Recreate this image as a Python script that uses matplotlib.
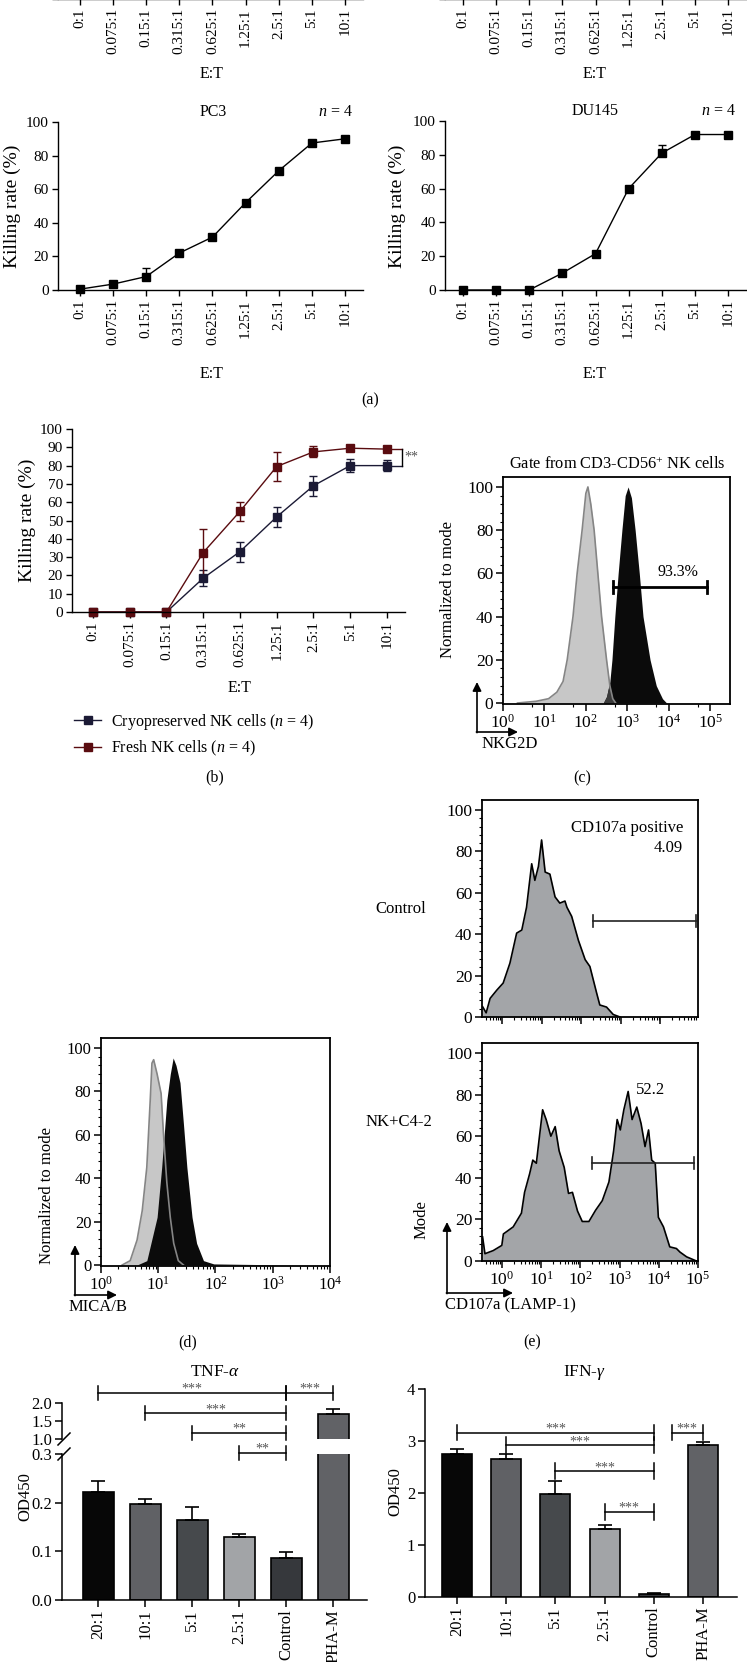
import numpy as np
import matplotlib
matplotlib.use('Agg')
import matplotlib.pyplot as plt
from matplotlib.patches import FancyArrowPatch
from matplotlib.lines import Line2D
from matplotlib.ticker import LogLocator, MultipleLocator, NullFormatter, FixedLocator

plt.rcParams['font.family'] = ['Liberation Serif', 'DejaVu Serif']
plt.rcParams['mathtext.fontset'] = 'custom'
plt.rcParams['mathtext.rm'] = 'Liberation Serif'
plt.rcParams['mathtext.it'] = 'Liberation Serif:italic'
plt.rcParams['font.size'] = 11

# ---------------- data ----------------
ratios = ['0:1', '0.075:1', '0.15:1', '0.315:1', '0.625:1', '1.25:1', '2.5:1', '5:1', '10:1']
pc3_kill = [0.5, 3.5, 8, 22, 31.5, 52, 71, 87.5, 90]
pc3_err = [0, 0, 5, 0, 0, 0, 0, 0, 0]
du145_kill = [0, 0, 0, 10, 21.5, 60, 81, 92, 92]
du145_err = [0, 0, 0, 0, 0, 0, 5, 0, 0]
cryo_kill = [0, 0, 0, 18.5, 33, 52, 69, 80, 80]
cryo_err = [0, 0, 0, 4.5, 5.5, 5.5, 5.5, 3.5, 3]
fresh_kill = [0, 0, 0, 32.5, 55, 79.5, 87.5, 89.5, 89]
fresh_err = [0, 0, 0, 13, 5, 8, 3, 1.5, 1.5]

# NKG2D histograms (log10 intensity, % of mode)
nkg2d_iso_logx = [0.35, 0.8, 1.1, 1.3, 1.45, 1.55, 1.69, 1.79, 1.91, 2.0, 2.05, 2.12, 2.2, 2.29, 2.38, 2.5, 2.58, 2.65, 2.72]
nkg2d_iso_y = [0, 0.8, 2, 5, 10, 20, 40, 60, 80, 97, 100, 92, 80, 60, 40, 20, 8, 2, 0]
nkg2d_logx = [2.42, 2.5, 2.58, 2.63, 2.7, 2.78, 2.87, 2.95, 3.02, 3.1, 3.19, 3.29, 3.38, 3.55, 3.7, 3.85, 3.95]
nkg2d_y = [0, 3, 10, 20, 40, 60, 80, 96, 100, 95, 80, 60, 40, 20, 8, 2, 0]

# MICA/B histograms
mica_iso_logx = [0.37, 0.51, 0.63, 0.72, 0.8, 0.86, 0.89, 0.92, 0.98, 1.05, 1.09, 1.15, 1.21, 1.27, 1.35, 1.44]
mica_iso_y = [0, 2, 11.5, 25, 45, 76, 93, 94.6, 88, 79, 61, 38, 22, 10, 2, 0]
mica_logx = [0.63, 0.8, 0.98, 1.06, 1.15, 1.21, 1.26, 1.31, 1.38, 1.44, 1.5, 1.59, 1.67, 1.79, 1.97, 2.5, 3.4]
mica_y = [0, 2, 22, 45, 76, 88, 95.4, 92, 84, 65, 45, 22, 10, 2, 0.5, 0.3, 0]

# CD107a histograms
ctrl_logx = [-0.49, -0.4, -0.3, -0.13, 0.03, 0.2, 0.37, 0.5, 0.62, 0.75, 0.83, 0.92, 1.0, 1.09, 1.21, 1.34,
             1.46, 1.59, 1.64, 1.76, 1.93, 2.1, 2.22, 2.39, 2.47, 2.64, 2.81, 2.98]
ctrl_y = [5, 2, 9, 13, 16.4, 26, 40.5, 42, 53, 74, 66, 72.7, 85.5, 70, 69, 58, 55, 56, 53, 48.6, 37, 27.7,
          24.4, 11.6, 5.8, 4.8, 1.2, 0]
nkc42_logx = [-0.49, -0.43, -0.22, 0.0, 0.04, 0.29, 0.5, 0.58, 0.71, 0.79, 0.88, 0.96, 1.04, 1.13, 1.25, 1.36,
              1.46, 1.59, 1.70, 1.8, 1.93, 2.05, 2.22, 2.39, 2.56, 2.73, 2.85, 2.94, 3.02, 3.11, 3.22, 3.32,
              3.44, 3.55, 3.65, 3.74, 3.82, 3.91, 3.99, 4.12, 4.28, 4.45, 4.54, 4.71, 4.96]
nkc42_y = [11.6, 3.5, 5, 7.5, 13, 16.4, 23, 33, 42, 48.5, 47, 60, 72.7, 68, 60, 64.6, 53, 45, 32.5, 33, 24, 19,
           19, 24.4, 29, 38, 53, 68, 63, 72.7, 81.5, 68, 74, 66, 55, 63, 48.5, 47, 21, 16.4, 6.8, 6, 4.3, 2, 0]

# cytokine ELISA
groups = ['20:1', '10:1', '5:1', '2.5:1', 'Control', 'PHA-M']
tnf_mean = [0.222, 0.197, 0.164, 0.129, 0.086, 1.70]
tnf_err = [0.022, 0.010, 0.027, 0.007, 0.013, 0.12]
ifn_mean = [2.75, 2.66, 1.98, 1.31, 0.06, 2.92]
ifn_err = [0.10, 0.09, 0.25, 0.08, 0.02, 0.07]
bar_colors = ['#070707', '#606165', '#46494c', '#a2a4a7', '#36383c', '#616266']
tnf_sig = [(0, 4, '***'), (1, 4, '***'), (2, 4, '**'), (3, 4, '**'), (4, 5, '***')]
ifn_sig = [(0, 4, '***'), (1, 4, '***'), (2, 4, '***'), (3, 4, '***'), (4, 5, '***')]

# ---------------- layout helpers ----------------
W, H = 747, 1662
fig = plt.figure(figsize=(W / 100, H / 100), dpi=100)


def add_ax(l, t, r, b):
    return fig.add_axes([l / W, 1 - b / H, (r - l) / W, (b - t) / H])


def ftext(x, y, s, **kw):
    kw.setdefault('ha', 'center')
    kw.setdefault('va', 'center')
    fig.text(x / W, 1 - y / H, s, **kw)


def farrow(x0, y0, x1, y1):
    fig.add_artist(FancyArrowPatch((x0 / W, 1 - y0 / H), (x1 / W, 1 - y1 / H), transform=fig.transFigure,
                                   arrowstyle='-|>', mutation_scale=13, lw=1.2, color='k',
                                   shrinkA=0, shrinkB=0))


def corner_arrows(x, y, up, right):
    farrow(x, y + 0.6, x, up)
    farrow(x - 0.6, y, right, y)


def line_axes(l, t, r, b, pad_l, pad_r, ystep=20):
    ax = add_ax(l, t, r, b)
    n = len(ratios)
    ax.set_xlim(-pad_l, n - 1 + pad_r)
    ax.set_ylim(0, 100)
    ax.set_xticks(range(n))
    ax.set_xticklabels(ratios, rotation=90)
    ax.yaxis.set_major_locator(MultipleLocator(ystep))
    for s in ('top', 'right'):
        ax.spines[s].set_visible(False)
    for s in ('left', 'bottom'):
        ax.spines[s].set_linewidth(1.0)
    ax.tick_params(direction='out', length=4.5, width=1.0, labelsize=11, pad=2)
    ax.patch.set_alpha(0)
    return ax


xs = np.arange(len(ratios))
zeros = np.zeros(len(ratios))
YLAB = 14

# ---------------- (a) top cut-off panels ----------------
for l, r, pl, pr, cx in [(58, 363, 0.66, 0.54, 212), (445, 747, 0.54, 0.57, 595)]:
    axt = line_axes(l, -172, r, -1, pl, pr)
    axt.tick_params(axis='y', labelleft=False)
    ftext(cx, 74, 'E:T', fontsize=11.5)

# PC3
ax = line_axes(58, 122, 363, 290, 0.66, 0.54)
ax.errorbar(xs, pc3_kill, yerr=[zeros, pc3_err], fmt='-s', color='k', ms=5.5, lw=1, capsize=3,
            elinewidth=1, capthick=1, clip_on=False)
ftext(213, 112, 'PC3', fontsize=11.5)
ftext(335, 112, '$n$ = 4', fontsize=11.5)
ftext(12, 206, 'Killing rate (%)', rotation=90, fontsize=YLAB)
ftext(212, 374, 'E:T', fontsize=11.5)

# DU145
ax = line_axes(445, 121, 747, 290, 0.54, 0.57)
ax.errorbar(xs, du145_kill, yerr=[zeros, du145_err], fmt='-s', color='k', ms=5.5, lw=1, capsize=3,
            elinewidth=1, capthick=1, clip_on=False)
ftext(595, 111, 'DU145', fontsize=11.5)
ftext(718, 111, '$n$ = 4', fontsize=11.5)
ftext(397, 206, 'Killing rate (%)', rotation=90, fontsize=YLAB)
ftext(595, 374, 'E:T', fontsize=11.5)

ftext(370, 400, '(a)', fontsize=11.5)

# ---------------- (b) ----------------
cryo_c = '#1b1a35'
fresh_c = '#5a0c10'
ax = line_axes(72, 429, 405, 612, 0.57, 0.49, ystep=10)
ax.errorbar(xs, cryo_kill, yerr=cryo_err, fmt='-s', color=cryo_c, ms=5.5, lw=1, capsize=3,
            elinewidth=1, capthick=1, clip_on=False)
ax.errorbar(xs, fresh_kill, yerr=fresh_err, fmt='-s', color=fresh_c, ms=5.5, lw=1, capsize=3,
            elinewidth=1, capthick=1, clip_on=False)
xb = 8.41
ax.plot([8, xb], [fresh_kill[-1], fresh_kill[-1]], color=fresh_c, lw=1, clip_on=False)
ax.plot([8, xb], [cryo_kill[-1], cryo_kill[-1]], color=cryo_c, lw=1, clip_on=False)
ax.plot([xb, xb], [cryo_kill[-1], fresh_kill[-1]], color='k', lw=1, clip_on=False)
ax.text(xb + 0.05, (cryo_kill[-1] + fresh_kill[-1]) / 2, '**', fontsize=10, color='#555555',
        ha='left', va='center')
ftext(27, 520, 'Killing rate (%)', rotation=90, fontsize=YLAB)
ftext(240, 688, 'E:T', fontsize=11.5)
handles = [Line2D([], [], color=cryo_c, marker='s', ms=5.5, lw=1),
           Line2D([], [], color=fresh_c, marker='s', ms=5.5, lw=1)]
fig.legend(handles, ['Cryopreserved NK cells ($n$ = 4)', 'Fresh NK cells ($n$ = 4)'],
           loc='upper left', bbox_to_anchor=(74 / W, 1 - 712 / H), frameon=False, fontsize=11.5,
           handlelength=1.7, handletextpad=0.6, labelspacing=0.45, borderpad=0, borderaxespad=0)
ftext(215, 777, '(b)', fontsize=11.5)


# ---------------- flow panels helper ----------------
def flow_axes(l, t, r, b, xlim, ylim, labelsize, xlabels=True):
    ax = add_ax(l, t, r, b)
    ax.set_xscale('log')
    ax.set_xlim(*xlim)
    ax.set_ylim(*ylim)
    ax.yaxis.set_major_locator(FixedLocator([0, 20, 40, 60, 80, 100]))
    ax.yaxis.set_minor_locator(FixedLocator([v for v in range(0, 101, 4) if v % 20]))
    ax.xaxis.set_major_locator(LogLocator(base=10, numticks=20))
    ax.xaxis.set_minor_locator(LogLocator(base=10, subs=np.arange(2, 10), numticks=20))
    ax.xaxis.set_minor_formatter(NullFormatter())
    if not xlabels:
        ax.xaxis.set_major_formatter(NullFormatter())
    for s in ax.spines.values():
        s.set_linewidth(1.3)
    ax.tick_params(which='major', direction='out', length=5, width=1.1, labelsize=labelsize, pad=2)
    ax.tick_params(which='minor', direction='out', length=2.5, width=0.8)
    return ax


# ---------------- (c) NKG2D ----------------
ax = flow_axes(503, 477, 730, 704, (1, 10 ** 5.48), (-0.46, 104.6), 12.5)
ax.xaxis.set_minor_locator(LogLocator(base=10, subs=(5.0,), numticks=20))
ix = 10 ** np.array(nkg2d_iso_logx)
sx = 10 ** np.array(nkg2d_logx)
ax.fill_between(ix, nkg2d_iso_y, color='#c7c7c7', lw=0)
ax.fill_between(sx, nkg2d_y, color='#0b0b0b', lw=0)
grid = np.linspace(2.3, 2.9, 300)
ov = np.minimum(np.interp(grid, nkg2d_iso_logx, nkg2d_iso_y, left=0, right=0),
                np.interp(grid, nkg2d_logx, nkg2d_y, left=0, right=0))
ax.fill_between(10 ** grid, ov, color='#3a3a3a', lw=0)
ax.plot(ix, nkg2d_iso_y, color='#858585', lw=1.2)
gx0, gx1, gy = 10 ** 2.66, 10 ** 4.93, 53.7
ax.plot([gx0, gx1], [gy, gy], color='k', lw=2)
ax.plot([gx0, gx0], [gy - 2.8, gy + 2.8], color='k', lw=2)
ax.plot([gx1, gx1], [gy - 2.8, gy + 2.8], color='k', lw=2)
ax.text(10 ** 4.23, 60.6, '93.3%', fontsize=11.5, ha='center', va='center')
ax.set_xticks([10 ** k for k in range(6)])
ax.set_xticklabels(['$10^{%d}$' % k for k in range(6)])
ftext(617, 465, 'Gate from CD3-CD56$^{+}$ NK cells', fontsize=11.8)
ftext(448, 590, 'Normalized to mode', rotation=90, fontsize=12)
corner_arrows(477, 732, 682, 518)
ftext(510, 744, 'NKG2D', fontsize=12)
ftext(582, 778, '(c)', fontsize=11.5)

# ---------------- (d) MICA/B ----------------
ax = flow_axes(101, 1038, 330, 1266, (1, 1e4), (-0.46, 104.6), 12)
mix = 10 ** np.array(mica_iso_logx)
msx = 10 ** np.array(mica_logx)
ax.fill_between(mix, mica_iso_y, color='#c7c7c7', lw=0)
ax.fill_between(msx, mica_y, color='#0b0b0b', lw=0)
ax.plot(mix, mica_iso_y, color='#858585', lw=1.2)
ax.set_xticks([10 ** k for k in range(5)])
ax.set_xticklabels(['$10^{%d}$' % k for k in range(5)])
ftext(47, 1196, 'Normalized to mode', rotation=90, fontsize=12)
corner_arrows(75, 1295, 1245, 117)
ftext(98, 1307, 'MICA/B', fontsize=12)
ftext(188, 1342, '(d)', fontsize=11.5)

# ---------------- (e) CD107a ----------------
exlim = (10 ** -0.505, 10 ** 4.95)
ax = flow_axes(482, 800, 698, 1017, exlim, (0, 104.8), 12.5, xlabels=False)
cx = 10 ** np.array(ctrl_logx)
ax.fill_between(cx, ctrl_y, color='#a3a5a8', lw=0)
ax.plot(cx, ctrl_y, color='k', lw=1.2)
g0, g1, gy = 10 ** 2.3, 10 ** 4.9, 46.4
ax.plot([g0, g1], [gy, gy], color='#222222', lw=1.2)
ax.plot([g0, g0], [gy - 3, gy + 3], color='#222222', lw=1.2)
ax.plot([g1, g1], [gy - 3, gy + 3], color='#222222', lw=1.2)
ax.text(10 ** 4.57, 91.3, 'CD107a positive', fontsize=12, ha='right', va='center')
ax.text(10 ** 4.57, 81.6, '4.09', fontsize=12, ha='right', va='center')
ftext(401, 909, 'Control', fontsize=12)

ax = flow_axes(482, 1043, 698, 1261, exlim, (0, 104.8), 12.5)
nx = 10 ** np.array(nkc42_logx)
ax.fill_between(nx, nkc42_y, color='#a3a5a8', lw=0)
ax.plot(nx, nkc42_y, color='k', lw=1.2)
gy = 47
ax.plot([g0, g1], [gy, gy], color='#222222', lw=1.2)
ax.plot([g0, g0], [gy - 3, gy + 3], color='#222222', lw=1.2)
ax.plot([g1, g1], [gy - 3, gy + 3], color='#222222', lw=1.2)
ax.text(10 ** 3.79, 82, '52.2', fontsize=12, ha='center', va='center')
ax.set_xticks([10 ** k for k in range(6)])
ax.set_xticklabels(['$10^{%d}$' % k for k in range(6)])
ftext(399, 1122, 'NK+C4-2', fontsize=12)
ftext(422, 1220, 'Mode', rotation=90, fontsize=12)
corner_arrows(447, 1293, 1222, 513)
ftext(510, 1305, 'CD107a (LAMP-1)', fontsize=12)
ftext(532, 1342, '(e)', fontsize=11.5)

# ---------------- (f) TNF-alpha with broken axis ----------------
bx = np.arange(len(groups))
tnf_xlim = (-0.77, 5.72)
ax_lo = add_ax(62, 1454, 367, 1600)
ax_up = add_ax(62, 1403, 367, 1439)
for a, yl in ((ax_lo, (0, 0.3)), (ax_up, (1.0, 2.0))):
    a.bar(bx, tnf_mean, width=0.66, color=bar_colors, edgecolor='k', lw=1.2)
    a.errorbar(bx, tnf_mean, yerr=[np.zeros(len(groups)), tnf_err], fmt='none', ecolor='k',
               elinewidth=1.2, capsize=5, capthick=1.2)
    a.set_xlim(*tnf_xlim)
    a.set_ylim(*yl)
    a.spines['top'].set_visible(False)
    a.spines['right'].set_visible(False)
    a.spines['left'].set_linewidth(1.1)
    a.spines['bottom'].set_linewidth(1.1)
    a.tick_params(direction='out', length=5, width=1.1, labelsize=12, pad=2)
    a.patch.set_alpha(0)
ax_lo.set_yticks([0, 0.1, 0.2, 0.3])
ax_lo.set_yticklabels(['0.0', '0.1', '0.2', '0.3'])
ax_lo.set_xticks(bx)
ax_lo.set_xticklabels(groups, rotation=90)
ax_up.set_yticks([1.0, 1.5, 2.0])
ax_up.set_yticklabels(['1.0', '1.5', '2.0'])
ax_up.spines['bottom'].set_visible(False)
ax_up.set_xticks([])
# break marks
for yy in (1439, 1454):
    fig.add_artist(Line2D([(58) / W, (70) / W], [1 - (yy + 6) / H, 1 - (yy - 6) / H],
                          transform=fig.transFigure, color='k', lw=1.1))
# significance brackets (positions in upper-axis units)
tnf_br_y = [2.28, 1.72, 1.17, 0.61, 2.28]
d = 0.19
for (i, j, s), yb in zip(tnf_sig, tnf_br_y):
    ax_up.plot([i, j], [yb, yb], color='k', lw=1.1, clip_on=False)
    ax_up.plot([i, i], [yb - d, yb + d], color='k', lw=1.1, clip_on=False)
    ax_up.plot([j, j], [yb - d, yb + d], color='k', lw=1.1, clip_on=False)
    ax_up.text((i + j) / 2, yb, s, ha='center', va='baseline', fontsize=10, color='#555555')
ftext(215, 1372, 'TNF-$\\alpha$', fontsize=12.5)
ftext(25, 1497, 'OD450', rotation=90, fontsize=12)

# ---------------- IFN-gamma ----------------
ax = add_ax(425, 1389, 737, 1597)
ax.bar(bx, ifn_mean, width=0.61, color=bar_colors, edgecolor='k', lw=1.2)
ax.errorbar(bx, ifn_mean, yerr=[np.zeros(len(groups)), ifn_err], fmt='none', ecolor='k',
            elinewidth=1.2, capsize=5, capthick=1.2)
ax.set_xlim(-0.65, 5.69)
ax.set_ylim(0, 4)
ax.set_yticks([0, 1, 2, 3, 4])
ax.set_xticks(bx)
ax.set_xticklabels(groups, rotation=90)
ax.spines['top'].set_visible(False)
ax.spines['right'].set_visible(False)
ax.spines['left'].set_linewidth(1.1)
ax.spines['bottom'].set_linewidth(1.1)
ax.tick_params(direction='out', length=5, width=1.1, labelsize=12, pad=2)
ifn_br_y = [3.16, 2.92, 2.42, 1.64, 3.16]
ifn_br_x0_shift = [0, 0, 0, 0, 0.36]
d = 0.15
for (i, j, s), yb, sh in zip(ifn_sig, ifn_br_y, ifn_br_x0_shift):
    x0 = i + sh
    ax.plot([x0, j], [yb, yb], color='k', lw=1.1, clip_on=False)
    ax.plot([x0, x0], [yb - d, yb + d], color='k', lw=1.1, clip_on=False)
    ax.plot([j, j], [yb - d, yb + d], color='k', lw=1.1, clip_on=False)
    ax.text((x0 + j) / 2, yb, s, ha='center', va='baseline', fontsize=10, color='#555555')
ftext(585, 1372, 'IFN-$\\gamma$', fontsize=12.5)
ftext(395, 1492, 'OD450', rotation=90, fontsize=12)

fig.savefig('out.png', dpi=100)
